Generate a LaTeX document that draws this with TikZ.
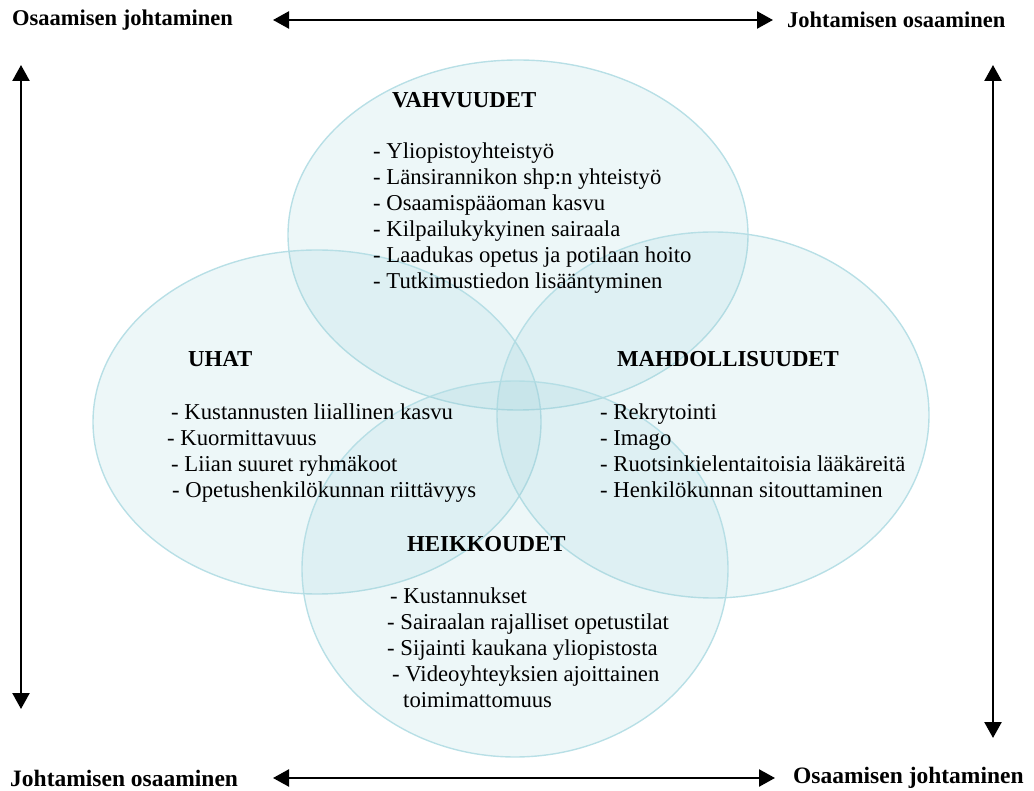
\documentclass[tikz,border=0pt]{standalone}
\usepackage{fontspec}
\setmainfont{Liberation Serif}
\usetikzlibrary{arrows.meta}
\definecolor{bubblefill}{RGB}{150,205,215}
\definecolor{bubbleedge}{RGB}{178,221,228}
\begin{document}
\begin{tikzpicture}[x=1pt,y=-1pt,
  bubble/.style={fill=bubblefill,fill opacity=0.17,draw=bubbleedge,draw opacity=0.9,line width=1.4pt},
  axis/.style={line width=2.4pt,{Triangle[length=16pt,width=17pt]}-{Triangle[length=16pt,width=17pt]}},
  corner/.style={font=\fontsize{22.5}{26}\selectfont\bfseries,inner sep=0pt},
  lowcorner/.style={font=\fontsize{23.5}{26}\selectfont\bfseries,inner sep=0pt},
  heading/.style={font=\fontsize{22.8}{26}\selectfont\bfseries,anchor=base west,inner sep=0pt},
  items/.style={font=\fontsize{22.7}{26}\selectfont,anchor=base west,align=left,inner sep=0pt}]
\useasboundingbox (0,0) rectangle (1034,791);

% the four overlapping regions
\path[bubble] (518,235) ellipse [x radius=230,y radius=175];
\path[bubble] (317,422) ellipse [x radius=224,y radius=172];
\path[bubble] (713,415) ellipse [x radius=216,y radius=183];
\path[bubble] (515,569) ellipse [x radius=213,y radius=188];

% corner labels
\node[corner,anchor=west] (tl) at (12,20) {Osaamisen johtaminen};
\node[corner,anchor=west] (tr) at (787,20) {Johtamisen osaaminen};
\node[lowcorner,anchor=west] (bl) at (10,778) {Johtamisen osaaminen};
\node[lowcorner,anchor=west] (br) at (793,778) {Osaamisen johtaminen};

% axis arrows
\coordinate (ht1) at (273,20);  \coordinate (ht2) at (773,20);
\coordinate (hb1) at (273,778); \coordinate (hb2) at (775,778);
\coordinate (vl1) at (21,65);   \coordinate (vl2) at (21,709);
\coordinate (vr1) at (993,65);  \coordinate (vr2) at (993,738);
\draw[axis] (ht1) -- (ht2);
\draw[axis] (hb1) -- (hb2);
\draw[axis] (vl1) -- (vl2);
\draw[axis] (vr1) -- (vr2);

% strengths (node base = baseline of the last line)
\node[heading] (sh) at (392,108) {VAHVUUDET};
\node[items] (si) at (373,289) {- Yliopistoyhteistyö\\
- Länsirannikon shp:n yhteistyö\\
- Osaamispääoman kasvu\\
- Kilpailukykyinen sairaala\\
- Laadukas opetus ja potilaan hoito\\
- Tutkimustiedon lisääntyminen};

% threats
\node[heading] (th) at (188,367) {UHAT};
\node[items] (ti) at (171,497) {- Kustannusten liiallinen kasvu\\
\hspace*{-4pt}- Kuormittavuus\\
- Liian suuret ryhmäkoot\\
\hspace*{1pt}- Opetushenkilökunnan riittävyys};

% opportunities
\node[heading] (oh) at (617,367) {MAHDOLLISUUDET};
\node[items] (oi) at (600,497) {- Rekrytointi\\
- Imago\\
- Ruotsinkielentaitoisia lääkäreitä\\
- Henkilökunnan sitouttaminen};

% weaknesses
\node[heading] (wh) at (407,551) {HEIKKOUDET};
\node[items] (wi) at (390,707) {- Kustannukset\\
\hspace*{-3pt}- Sairaalan rajalliset opetustilat\\
\hspace*{-3pt}- Sijainti kaukana yliopistosta\\
\hspace*{2pt}- Videoyhteyksien ajoittainen\\
\hspace*{13pt}toimimattomuus};
\end{tikzpicture}
\end{document}
